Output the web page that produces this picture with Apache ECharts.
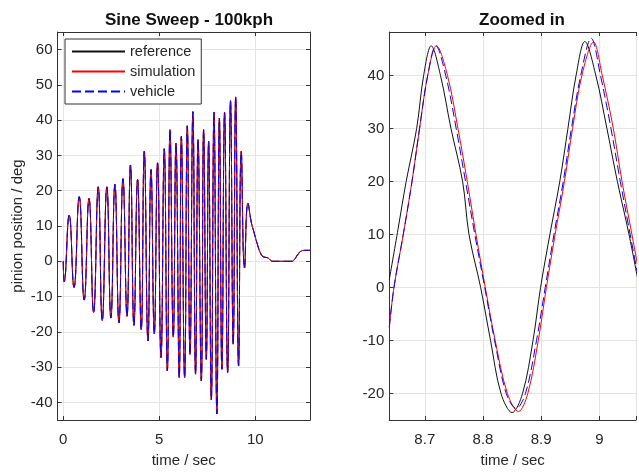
<!DOCTYPE html>
<html>
<head>
    <meta charset="utf-8">
    <title>Sine Sweep - 100kph</title>
    <script src="https://cdn.jsdelivr.net/npm/echarts@6/dist/echarts.min.js"></script>
    <style>
        html, body { margin: 0; padding: 0; background: #fff; }
    </style>
</head>
<body>
    <div id="main" style="width: 639px;height:473px;"></div>
    <script type="text/javascript">
        // left panel: peaks / troughs of the sweep
        // (at this scale reference, simulation and vehicle sit on top of each other)
        var sweepTime = [0, 0.05, 0.31, 0.56, 0.83, 1.09, 1.34, 1.58, 1.82, 2.03, 2.27, 2.48, 2.69, 2.90,
            3.11, 3.32, 3.50, 3.68, 3.87, 4.06, 4.22, 4.41, 4.57, 4.74, 4.91, 5.09, 5.26, 5.42, 5.56,
            5.73, 5.87, 6.04, 6.15, 6.32, 6.46, 6.60, 6.75, 6.89, 7.02, 7.19, 7.31, 7.45, 7.57, 7.71,
            7.85, 8.00, 8.13, 8.26, 8.40, 8.56, 8.71, 8.85, 8.98, 9.13, 9.27, 9.44, 9.62, 9.79, 9.92,
            10.1, 10.3, 10.45, 10.64, 10.8, 10.9, 11.3, 11.9, 12.05, 12.2, 12.4, 12.6, 12.86];
        var sweepAngle = [0, -5.8, 13.1, -7.4, 18.3, -11, 17.8, -14.5, 21.1, -16.8, 21.1, -16.1, 21.8, -17.5,
            23.4, -15.6, 27.3, -18.2, 23.2, -19.4, 31.2, -22.6, 26, -20.6, 27.9, -27.3, 31.9, -31.1, 37.3,
            -21.5, 33.5, -33, 35.4, -33, 38.4, -26.4, 42.4, -32, 34.5, -33.9, 37.3, -27.8, 34, -39.3,
            42.2, -43.3, 40.6, -30.6, 42.2, -31.5, 45.5, -23.5, 46.6, -29.7, 31.2, -1.9, 16.5, 11.1, 8.5,
            5, 2, 1.2, 1.0, 0.3, 0, 0, 0, 0.6, 1.8, 2.9, 3.1, 3.1];

        // right panel: zoomed window
        var zoomRefTime = [8.639, 8.654, 8.668, 8.686, 8.698, 8.711, 8.727, 8.745, 8.765, 8.776, 8.796,
            8.813, 8.831, 8.850, 8.868, 8.886, 8.899, 8.915, 8.932, 8.946, 8.960, 8.975, 8.994, 9.013,
            9.031, 9.051, 9.067];
        var zoomRefAngle = [1.5, 11, 20, 30, 40, 45.6, 40, 30, 20, 10, 0,
            -10, -20, -23.6, -20, -10, 0, 10, 20, 30, 40, 46.4, 40, 30,
            20, 10, 1];

        var zoomSimTime = [8.639, 8.647, 8.663, 8.678, 8.691, 8.705, 8.720, 8.739, 8.757, 8.773, 8.788,
            8.804, 8.821, 8.842, 8.861, 8.877, 8.895, 8.909, 8.924, 8.940, 8.954, 8.970, 8.990, 9.005,
            9.024, 9.039, 9.056, 9.072];
        var zoomSimAngle = [-7.5, 0, 10, 20, 30, 40, 45.6, 40, 30, 20, 10,
            0, -10, -20, -23.4, -20, -10, 0, 10, 20, 30, 40, 46.3, 40,
            30, 20, 10, 0.5];

        var zoomVehTime = [8.639, 8.647, 8.663, 8.678, 8.691, 8.705, 8.719, 8.736, 8.754, 8.770, 8.786,
            8.803, 8.820, 8.840, 8.857, 8.873, 8.892, 8.907, 8.922, 8.938, 8.952, 8.968, 8.986, 9.002,
            9.020, 9.036, 9.053, 9.070];
        var zoomVehAngle = [-7.5, 0, 10, 20, 30, 40, 45.6, 40, 30, 20, 10,
            0, -10, -20, -22.8, -20, -10, 0, 10, 20, 30, 40, 47, 40,
            30, 20, 10, 0];

        var seriesNames = ['reference', 'simulation', 'vehicle'];

        function pairs(xs, ys) {
            return xs.map(function (x, i) { return [x, ys[i]]; });
        }

        var FONT = 'Liberation Sans';
        var TXT = '#262626';
        var AX = '#333';
        var GRIDC = '#e4e4e4';

        function lineOf(name, kind, xi, yi, data, smooth) {
            var style = { width: 1 };
            if (kind === 0) { style.color = '#111'; }
            if (kind === 1) { style.color = '#ff0000'; }
            if (kind === 2) { style.color = '#0000ff'; style.type = [9, 4]; }
            return {
                name: name,
                type: 'line',
                xAxisIndex: xi,
                yAxisIndex: yi,
                data: data,
                symbol: 'none',
                smooth: smooth,
                lineStyle: style,
                itemStyle: { color: style.color },
                emphasis: { disabled: true },
                z: 2 + kind
            };
        }

        // hide the extent labels (min / max are not on the tick step)
        function stepLabel(step) {
            return function (v) {
                var r = Math.round(v / step) * step;
                if (Math.abs(v - r) > 1e-6) return '';
                return String(parseFloat(r.toFixed(2)));
            };
        }

        function valAxis(grid, pos, min, max, split, step, name, gap, showLabel) {
            return {
                type: 'value',
                gridIndex: grid,
                position: pos,
                min: min,
                max: max,
                splitNumber: split,
                name: name,
                nameLocation: 'middle',
                nameGap: gap,
                nameTextStyle: { fontFamily: FONT, fontSize: 15, color: TXT },
                axisLine: { show: true, onZero: false, lineStyle: { color: AX, width: 1 } },
                axisTick: { show: true, inside: true, length: 4, lineStyle: { color: AX } },
                axisLabel: {
                    show: showLabel,
                    fontFamily: FONT,
                    fontSize: 15,
                    color: TXT,
                    margin: (pos === 'left') ? 5 : 12,
                    formatter: stepLabel(step)
                },
                splitLine: { show: showLabel, lineStyle: { color: GRIDC, width: 1 } }
            };
        }

        var dom = document.getElementById('main');
        var myChart = echarts.init(dom, null, { renderer: 'canvas' });

        var series = [];
        var sweepData = pairs(sweepTime, sweepAngle);
        for (var k = 0; k < 3; k++) {
            series.push(lineOf(seriesNames[k], k, 0, 0, sweepData, 0.5));
        }
        series.push(lineOf('reference', 0, 2, 2, pairs(zoomRefTime, zoomRefAngle), 0.35));
        series.push(lineOf('simulation', 1, 2, 2, pairs(zoomSimTime, zoomSimAngle), 0.35));
        series.push(lineOf('vehicle', 2, 2, 2, pairs(zoomVehTime, zoomVehAngle), 0.35));

        var option = {
            backgroundColor: '#fff',
            animation: false,
            title: [{
                text: 'Sine Sweep - 100kph',
                left: 184,
                top: 7,
                textAlign: 'center',
                textStyle: { fontFamily: FONT, fontSize: 17, fontWeight: 'bold', color: '#111' }
            }, {
                text: 'Zoomed in',
                left: 517,
                top: 7,
                textAlign: 'center',
                textStyle: { fontFamily: FONT, fontSize: 17, fontWeight: 'bold', color: '#111' }
            }],
            legend: {
                data: seriesNames,
                orient: 'vertical',
                left: 65,
                top: 39,
                padding: [5, 6, 5, 6],
                itemGap: 5,
                itemWidth: 53,
                itemHeight: 14,
                // line only, no marker
                itemStyle: { opacity: 0 },
                backgroundColor: '#fff',
                borderColor: '#333',
                borderWidth: 1,
                borderRadius: 0,
                selectedMode: false,
                textStyle: { fontFamily: FONT, fontSize: 14.5, color: TXT }
            },
            grid: [{
                left: 57.5, top: 32, width: 252.5, height: 390
            }, {
                // right panel is cut off by the window edge
                left: 389.3, top: 32, right: 0, height: 390
            }],
            xAxis: [
                valAxis(0, 'bottom', -0.3, 12.85, 3, 5, 'time / sec', 33, true),
                valAxis(0, 'top', -0.3, 12.85, 3, 5, '', 0, false),
                valAxis(1, 'bottom', 8.639, 9.063, 4, 0.1, 'time / sec', 33, true),
                valAxis(1, 'top', 8.639, 9.063, 4, 0.1, '', 0, false)
            ],
            yAxis: [
                valAxis(0, 'left', -45, 65, 11, 10, 'pinion position / deg', 32, true),
                valAxis(0, 'right', -45, 65, 11, 10, '', 0, false),
                valAxis(1, 'left', -25, 48.2, 7, 10, '', 0, true)
            ],
            series: series
        };

        myChart.setOption(option, true);
    </script>
</body>
</html>
